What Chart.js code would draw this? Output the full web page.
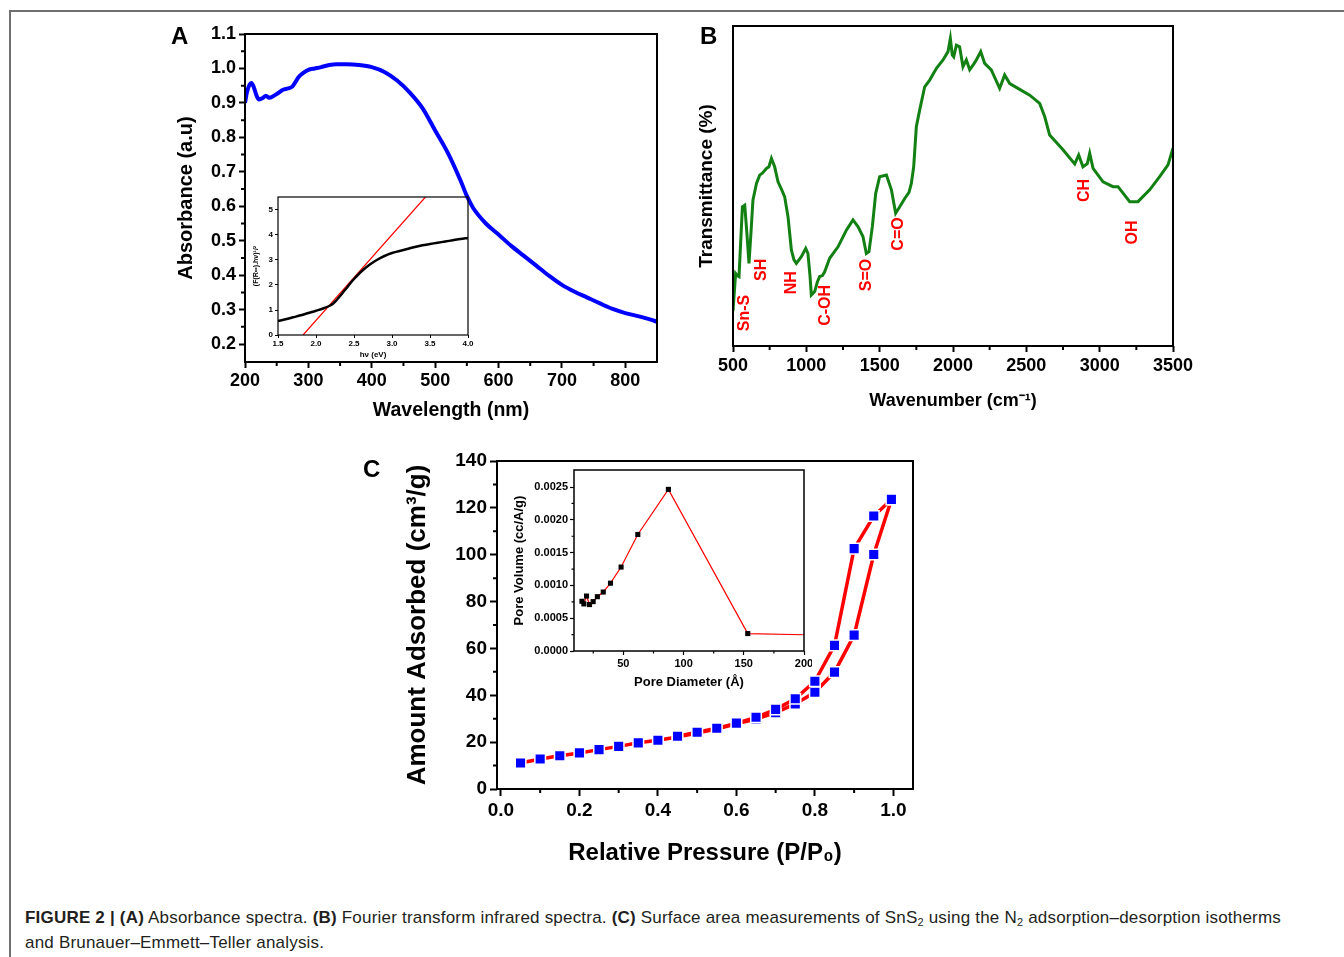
<!DOCTYPE html>
<html>
<head>
<meta charset="utf-8">
<title>Figure 2</title>
<script src="https://cdn.jsdelivr.net/npm/chart.js@4.4.1/dist/chart.umd.min.js"></script>
<style>
  body{margin:0;width:1344px;height:957px;background:#fff;position:relative;overflow:hidden;font-family:"Liberation Sans",Arial,sans-serif;}
  canvas{position:absolute;}
  .rule-top{position:absolute;left:9px;top:10px;width:1335px;height:2px;background:#707070;}
  .rule-left{position:absolute;left:9px;top:10px;width:2px;height:947px;background:#707070;}
  .tag{position:absolute;font:bold 24px/24px "Liberation Sans",Arial,sans-serif;color:#000;}
  .caption{position:absolute;left:25px;top:905px;width:1310px;font:17px/25px "Liberation Sans",Arial,sans-serif;color:#231f20;letter-spacing:0.2px;}
  .caption sub{font-size:11px;line-height:0;vertical-align:-3px;}
</style>
</head>
<body>
<div class="rule-top"></div>
<div class="rule-left"></div>

<canvas id="absChart" style="left:170px;top:20px" width="500" height="410"></canvas>
<canvas id="gapChart" style="left:245px;top:190px" width="235" height="175"></canvas>
<canvas id="irChart" style="left:690px;top:20px" width="510" height="400"></canvas>
<canvas id="isoChart" style="left:360px;top:450px" width="570" height="430"></canvas>
<canvas id="poreChart" style="left:508px;top:466px" width="304" height="229"></canvas>

<div class="tag" style="left:171px;top:24px">A</div>
<div class="tag" style="left:700px;top:24px">B</div>
<div class="tag" style="left:363px;top:457px">C</div>

<div class="caption"><b>FIGURE 2 | (A)</b> Absorbance spectra. <b>(B)</b> Fourier transform infrared spectra. <b>(C)</b> Surface area measurements of SnS<sub>2</sub> using the N<sub>2</sub> adsorption–desorption isotherms<br>and Brunauer–Emmett–Teller analysis.</div>

<script>
// ---- A: UV-vis absorbance ----
const absWavelength = [200,203,207,210,214,218,222,228,233,238,
  245,252,260,268,275,280,285,292,300,310,
  320,333,345,360,380,400,420,440,460,480,
  500,520,540,550,560,580,600,620,640,660,
  680,700,720,740,760,780,800,820,840,850];
const absValue = [0.900,0.930,0.952,0.958,0.945,0.922,0.910,0.914,0.921,0.915,
  0.920,0.928,0.938,0.942,0.948,0.962,0.976,0.987,0.996,1.000,
  1.004,1.010,1.012,1.012,1.010,1.004,0.990,0.965,0.930,0.885,
  0.820,0.755,0.675,0.630,0.595,0.550,0.518,0.485,0.456,0.427,
  0.398,0.372,0.352,0.335,0.318,0.302,0.290,0.281,0.271,0.265];
const absXTicks = [200,300,400,500,600,700,800];
const absYTicks = [0.2,0.3,0.4,0.5,0.6,0.7,0.8,0.9,1.0,1.1];
const absXMinor = [250,350,450,550,650,750];
const absYMinor = [0.25,0.35,0.45,0.55,0.65,0.75,0.85,0.95,1.05];

// inset: Tauc / Kubelka-Munk plot
const gapEnergy = [1.5,1.6,1.7,1.8,1.9,2.0,2.1,2.2,2.25,2.3,
  2.35,2.4,2.45,2.5,2.55,2.6,2.7,2.8,2.9,3.0,
  3.1,3.2,3.3,3.4,3.5,3.6,3.7,3.8,3.9,4.0];
const gapKM = [0.56,0.63,0.71,0.79,0.88,0.97,1.07,1.20,1.33,1.50,
  1.68,1.87,2.06,2.24,2.40,2.55,2.80,3.00,3.16,3.28,
  3.36,3.44,3.52,3.59,3.64,3.69,3.74,3.79,3.84,3.88];
const gapFitEnergy = [1.83,3.44];
const gapFitKM = [0,5.52];
const gapXTicks = [1.5,2.0,2.5,3.0,3.5,4.0];
const gapYTicks = [0,1,2,3,4,5];

// ---- B: FTIR ----
const irWavenumber = [500,518,530,541,555,564,580,595,609,622,
  636,660,682,700,728,745,762,784,807,830,
  852,875,898,915,932,966,996,1011,1025,1034,
  1057,1075,1091,1110,1125,1159,1216,1273,1318,1352,
  1386,1409,1427,1450,1473,1500,1546,1580,1609,1637,
  1671,1700,1716,1732,1750,1773,1807,1841,1887,1932,
  1966,1982,1995,2005,2023,2045,2068,2091,2114,2140,
  2159,2189,2216,2261,2318,2352,2387,2443,2523,2591,
  2625,2659,2750,2830,2857,2886,2916,2932,2955,3023,
  3091,3125,3205,3261,3341,3409,3466,3500];
const irTransmittance = [11.0,22.7,22.0,21.7,35.0,43.5,44.0,35.0,25.8,35.0,
  45.6,50.8,53.4,54.0,55.5,56.0,58.6,56.0,51.3,49.0,
  46.7,40.4,30.0,27.0,25.8,27.9,30.5,28.9,22.0,15.9,
  17.0,20.0,21.7,22.0,23.2,27.4,31.0,36.2,39.4,37.3,
  34.2,28.9,29.5,37.3,47.7,52.9,53.4,48.8,41.5,43.5,
  46.1,48.0,50.8,56.0,68.5,73.8,81.0,83.1,86.8,89.4,
  92.0,96.1,91.0,90.4,94.0,93.5,87.3,89.4,86.3,88.0,
  89.4,92.0,88.3,86.3,80.5,84.7,82.0,80.5,78.4,75.8,
  71.7,65.9,61.3,56.9,59.7,56.0,57.0,60.2,55.5,51.3,
  49.8,49.8,45.1,45.1,48.8,52.9,56.6,61.8];
const irBandName = ['Sn-S','SH','NH','C-OH','S=O','C=O','CH','OH'];
const irBandWavenumber = [580,692,897,1132,1412,1630,2894,3225];
const irBandLevel = [10.3,23.8,19.8,12.7,22.2,35.0,48.6,35.5];
const irXTicks = [500,1000,1500,2000,2500,3000,3500];
const irXMinor = [750,1250,1750,2250,2750,3250];

// ---- C: N2 isotherm ----
const adsPressure = [0.05,0.10,0.15,0.20,0.25,0.30,0.35,0.40,0.45,0.50,
  0.55,0.60,0.65,0.70,0.75,0.80,0.85,0.90,0.95,0.995];
const adsAmount = [11.1,12.8,14.2,15.4,16.8,18.2,19.7,20.8,22.2,23.9,
  25.6,27.8,29.9,32.6,36.3,41.3,49.9,65.7,100.1,123.6];
const desPressure = [0.995,0.95,0.90,0.85,0.80,0.75,0.70,0.65,0.60,0.55,0.50,0.45];
const desAmount = [123.6,116.5,102.6,61.3,46.0,38.5,34.0,30.6,28.1,25.9,24.2,22.5];
const isoXTicks = [0,0.2,0.4,0.6,0.8,1.0];
const isoYTicks = [0,20,40,60,80,100,120,140];
const isoXMinor = [0.1,0.3,0.5,0.7,0.9];
const isoYMinor = [10,30,50,70,90,110,130];

// inset: pore size distribution
const poreDiameter = [15.6,17.2,19.4,21.9,24.9,28.4,33.3,39.3,48.1,62.0,87.4,153.3,200];
const poreVolume = [0.000758,0.000718,0.000838,0.000708,0.000753,0.000828,0.000899,0.001034,0.00128,0.001777,0.002465,0.000266,0.000248];
const poreXTicks = [50,100,150,200];
const poreYTicks = [0,0.0005,0.0010,0.0015,0.0020,0.0025];
const poreXMinor = [25,75,125,175];
const poreYMinor = [0.00025,0.00075,0.00125,0.00175,0.00225];

Chart.defaults.font.family = '"Liberation Sans", Arial, sans-serif';
Chart.defaults.color = '#000';
Chart.defaults.animation = false;

const xy = (xs, ys) => xs.map((x, i) => ({x, y: ys[i]}));

// closed box around the plot + unlabeled minor ticks (Origin look)
const originFrame = {
  id: 'originFrame',
  afterDraw(chart, args, o) {
    const {ctx, chartArea: a, scales} = chart;
    ctx.save();
    ctx.strokeStyle = '#000';
    ctx.lineWidth = o.frameWidth || 2;
    ctx.strokeRect(a.left, a.top, a.right - a.left, a.bottom - a.top);
    ctx.lineWidth = o.tickWidth || 2;
    ctx.beginPath();
    (o.xMinor || []).forEach(v => {
      const p = scales.x.getPixelForValue(v);
      ctx.moveTo(p, a.bottom); ctx.lineTo(p, a.bottom + o.minorLength);
    });
    (o.yMinor || []).forEach(v => {
      const p = scales.y.getPixelForValue(v);
      ctx.moveTo(a.left, p); ctx.lineTo(a.left - o.minorLength, p);
    });
    ctx.stroke();
    ctx.restore();
  }
};

// red rotated band assignments on the FTIR panel
const bandLabels = {
  id: 'bandLabels',
  afterDatasetsDraw(chart) {
    const {ctx, scales: {x, y}} = chart;
    ctx.save();
    ctx.fillStyle = '#ff0000';
    ctx.font = 'bold 16px "Liberation Sans", Arial, sans-serif';
    ctx.textAlign = 'center';
    ctx.textBaseline = 'middle';
    irBandName.forEach((t, i) => {
      ctx.save();
      ctx.translate(x.getPixelForValue(irBandWavenumber[i]), y.getPixelForValue(irBandLevel[i]));
      ctx.rotate(-Math.PI / 2);
      ctx.fillText(t, 0, 0);
      ctx.restore();
    });
    ctx.restore();
  }
};

function axis(o) {
  return {
    type: 'linear', min: o.min, max: o.max,
    afterBuildTicks: s => { s.ticks = o.ticks.map(value => ({value})); },
    afterFit: s => {
      if (s.isHorizontal()) s.height = o.size; else s.width = o.size;
      s.paddingLeft = s.paddingRight = s.paddingTop = s.paddingBottom = 0;
    },
    border: {display: false},
    grid: {drawOnChartArea: false, tickLength: o.tickLength, tickWidth: o.tickWidth, tickColor: '#000', color: '#000'},
    ticks: {color: '#000', font: {size: o.fontSize, weight: 'bold'}, padding: o.padding, maxRotation: 0, autoSkip: false, callback: o.format},
    title: {display: !!o.title, text: o.title, color: '#000', font: {size: o.titleSize, weight: 'bold'}, padding: o.titlePadding}
  };
}

const quiet = {legend: {display: false}, tooltip: {enabled: false}};

// A main
new Chart(document.getElementById('absChart'), {
  type: 'line',
  data: {datasets: [{data: xy(absWavelength, absValue), borderColor: '#0000ff', borderWidth: 4, pointRadius: 0, cubicInterpolationMode: 'monotone'}]},
  options: {
    responsive: false,
    layout: {padding: {left: 0, top: 14, right: 13, bottom: 0}},
    plugins: {...quiet, originFrame: {frameWidth: 2, tickWidth: 2, minorLength: 4, xMinor: absXMinor, yMinor: absYMinor}},
    scales: {
      x: axis({min: 200, max: 850, ticks: absXTicks, size: 68, tickLength: 6, tickWidth: 2, fontSize: 18, padding: 2,
        format: v => v, title: 'Wavelength (nm)', titleSize: 19.5, titlePadding: {top: 0, bottom: 8}}),
      y: axis({min: 0.148, max: 1.1, ticks: absYTicks, size: 75, tickLength: 6, tickWidth: 2, fontSize: 18, padding: 3,
        format: v => v.toFixed(1), title: 'Absorbance (a.u)', titleSize: 20, titlePadding: {top: 4, bottom: 0}})
    }
  },
  plugins: [originFrame]
});

// A inset
new Chart(document.getElementById('gapChart'), {
  type: 'line',
  data: {datasets: [
    {data: xy(gapEnergy, gapKM), borderColor: '#000', borderWidth: 2.5, pointRadius: 0, cubicInterpolationMode: 'monotone'},
    {data: xy(gapFitEnergy, gapFitKM), borderColor: '#ff0000', borderWidth: 1.2, pointRadius: 0}
  ]},
  options: {
    responsive: false,
    layout: {padding: {left: 0, top: 7, right: 12, bottom: 0}},
    plugins: {...quiet, originFrame: {frameWidth: 1.2, tickWidth: 1, minorLength: 2}},
    scales: {
      x: axis({min: 1.5, max: 4.0, ticks: gapXTicks, size: 30, tickLength: 3, tickWidth: 1, fontSize: 8, padding: 1,
        format: v => v.toFixed(1), title: 'hν (eV)', titleSize: 8, titlePadding: {top: 0, bottom: 5}}),
      y: axis({min: 0, max: 5.52, ticks: gapYTicks, size: 33, tickLength: 3, tickWidth: 1, fontSize: 8, padding: 2,
        format: v => v, title: '(F(R∞).hν)¹/²', titleSize: 7, titlePadding: {top: 7, bottom: 0}})
    }
  },
  plugins: [originFrame]
});

// B
new Chart(document.getElementById('irChart'), {
  type: 'line',
  data: {datasets: [{data: xy(irWavenumber, irTransmittance), borderColor: '#138013', borderWidth: 3, pointRadius: 0, tension: 0}]},
  options: {
    responsive: false,
    layout: {padding: {left: 0, top: 6, right: 27, bottom: 0}},
    plugins: {...quiet, originFrame: {frameWidth: 2, tickWidth: 2, minorLength: 4, xMinor: irXMinor}},
    scales: {
      x: axis({min: 500, max: 3500, ticks: irXTicks, size: 74, tickLength: 6, tickWidth: 2, fontSize: 18, padding: 3,
        format: v => v, title: 'Wavenumber (cm⁻¹)', titleSize: 18, titlePadding: {top: 0, bottom: 8}}),
      y: {
        type: 'linear', min: 0, max: 100,
        afterFit: s => { s.width = 43; s.paddingTop = s.paddingBottom = 0; },
        border: {display: false}, grid: {display: false}, ticks: {display: false},
        title: {display: true, text: 'Transmittance (%)', color: '#000', font: {size: 19, weight: 'bold'}, padding: {top: 5, bottom: 0}}
      }
    }
  },
  plugins: [originFrame, bandLabels]
});

// C main
const isoSeries = (xs, ys) => ({
  data: xy(xs, ys), borderColor: '#ff0000', borderWidth: 3.5, tension: 0,
  pointStyle: 'rect', pointRadius: 7.5, pointBackgroundColor: '#0000ff', pointBorderColor: '#ffffff', pointBorderWidth: 1.5
});
new Chart(document.getElementById('isoChart'), {
  type: 'line',
  data: {datasets: [isoSeries(desPressure, desAmount), isoSeries(adsPressure, adsAmount)]},
  options: {
    responsive: false,
    layout: {padding: {left: 0, top: 11, right: 17, bottom: 0}},
    plugins: {...quiet, originFrame: {frameWidth: 2, tickWidth: 2, minorLength: 4, xMinor: isoXMinor, yMinor: isoYMinor}},
    scales: {
      x: axis({min: -0.01, max: 1.05, ticks: isoXTicks, size: 91, tickLength: 7, tickWidth: 2, fontSize: 19, padding: 3,
        format: v => v.toFixed(1), title: 'Relative Pressure (P/P₀)', titleSize: 24, titlePadding: {top: 0, bottom: 12}}),
      y: axis({min: 0, max: 140, ticks: isoYTicks, size: 137, tickLength: 7, tickWidth: 2, fontSize: 19, padding: 3,
        format: v => v, title: 'Amount Adsorbed (cm³/g)', titleSize: 26, titlePadding: {top: 42, bottom: 0}})
    }
  },
  plugins: [originFrame]
});

// C inset
new Chart(document.getElementById('poreChart'), {
  type: 'line',
  data: {datasets: [{
    data: xy(poreDiameter, poreVolume), borderColor: '#ff0000', borderWidth: 1.2, tension: 0,
    pointStyle: 'rect', pointRadius: poreDiameter.map((d, i) => i === poreDiameter.length - 1 ? 0 : 3.6),
    pointBackgroundColor: '#000', pointBorderColor: '#000', pointBorderWidth: 0
  }]},
  options: {
    responsive: false,
    layout: {padding: {left: 0, top: 4, right: 8, bottom: 0}},
    plugins: {...quiet, originFrame: {frameWidth: 1.5, tickWidth: 1.2, minorLength: 2.5, xMinor: poreXMinor, yMinor: poreYMinor}},
    scales: {
      x: axis({min: 9, max: 200, ticks: poreXTicks, size: 44, tickLength: 4, tickWidth: 1.2, fontSize: 11, padding: 2,
        format: v => v, title: 'Pore Diameter (Å)', titleSize: 13, titlePadding: {top: 0, bottom: 5}}),
      y: axis({min: 0, max: 0.00276, ticks: poreYTicks, size: 66, tickLength: 4, tickWidth: 1.2, fontSize: 11, padding: 2,
        format: v => v.toFixed(4), title: 'Pore Volume (cc/A/g)', titleSize: 13, titlePadding: {top: 4, bottom: 0}})
    }
  },
  plugins: [originFrame]
});
</script>
</body>
</html>
